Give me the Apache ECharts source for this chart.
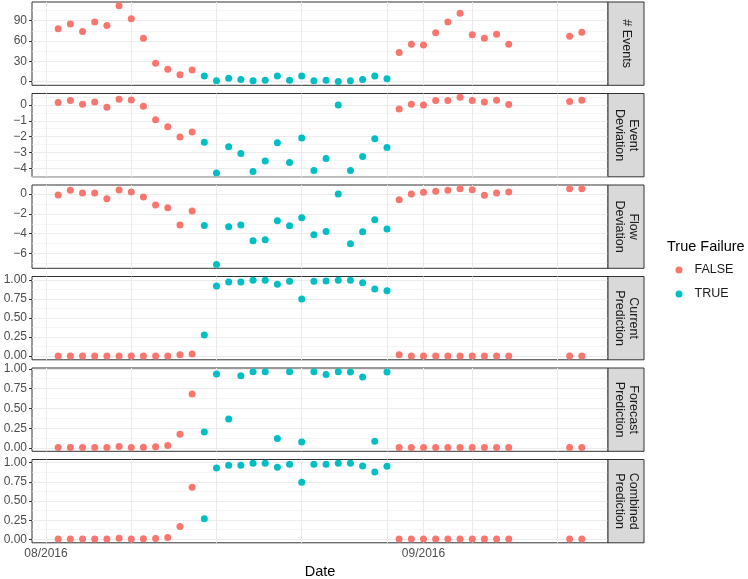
<!DOCTYPE html>
<html><head><meta charset="utf-8">
<script src="https://cdn.jsdelivr.net/npm/echarts@6/dist/echarts.min.js"></script>
<style>html,body{margin:0;padding:0;background:#fff}#c{width:748px;height:579px}</style>
</head><body><div id="c"></div>
<script>
// ---------------- data ----------------
const dates = [
  "2016-08-02","2016-08-03","2016-08-04","2016-08-05","2016-08-06","2016-08-07","2016-08-08","2016-08-09","2016-08-10","2016-08-11","2016-08-12","2016-08-13",
  "2016-08-14","2016-08-15","2016-08-16","2016-08-17","2016-08-18","2016-08-19","2016-08-20","2016-08-21","2016-08-22","2016-08-23","2016-08-24","2016-08-25","2016-08-26","2016-08-27","2016-08-28","2016-08-29",
  "2016-08-30","2016-08-31","2016-09-01","2016-09-02","2016-09-03","2016-09-04","2016-09-05","2016-09-06","2016-09-07","2016-09-08","2016-09-13","2016-09-14"];
const trueFailure = [
  false,false,false,false,false,false,false,false,false,false,false,false,
  true,true,true,true,true,true,true,true,true,true,true,true,true,true,true,true,
  false,false,false,false,false,false,false,false,false,false,false,false];
const nEvents = [78,85,74,88,83,112,93,64,27,18,10,17,
  8,1,5,3,1,2,8,2,8,1,2,0,1,3,8,4,
  43,55,54,72,88,101,69,64,70,55,67,73];
const eventDeviation = [0.15,0.27,0.04,0.19,-0.15,0.35,0.31,-0.08,-0.94,-1.38,-2.02,-1.71,
  -2.35,-4.29,-2.63,-3.06,-4.19,-3.54,-2.38,-3.63,-2.08,-4.13,-3.38,0,-4.13,-3.25,-2.13,-2.69,
  -0.25,0.04,0,0.27,0.27,0.48,0.27,0.19,0.29,0.02,0.21,0.29];
const flowDeviation = [-0.1,0.37,0.1,0.1,-0.47,0.4,0.2,-0.3,-1.1,-1.37,-3.13,-1.7,
  -3.17,-7.1,-3.3,-3.13,-4.7,-4.6,-2.7,-3.2,-2.4,-4.1,-3.77,0,-5.0,-3.8,-2.6,-3.53,
  -0.57,0,0.17,0.27,0.37,0.53,0.43,-0.13,0.1,0.2,0.53,0.53];
const currentPrediction = [0,0,0,0,0,0,0,0,0,0,0.017,0.026,
  0.277,0.922,0.974,0.974,0.996,0.996,0.944,0.983,0.75,0.983,0.987,0.996,0.996,0.965,0.883,0.857,
  0.017,0,0,0,0,0,0,0,0,0,0,0];
const forecastPrediction = [0.008,0.008,0.008,0.008,0.008,0.02,0.008,0.012,0.017,0.033,0.175,0.683,
  0.204,0.933,0.367,0.912,0.962,0.962,0.121,0.962,0.079,0.962,0.929,0.962,0.958,0.896,0.088,0.958,
  0.008,0.008,0.008,0.008,0.008,0.008,0.008,0.008,0.008,0.008,0.008,0.008];
const combinedPrediction = [0.009,0.009,0.009,0.009,0.009,0.02,0.009,0.012,0.017,0.03,0.172,0.681,
  0.272,0.931,0.966,0.966,0.991,0.991,0.94,0.978,0.746,0.978,0.978,0.991,0.991,0.957,0.879,0.953,
  0.009,0.009,0.009,0.009,0.009,0.009,0.009,0.009,0.009,0.009,0.009,0.009];

const panelValues = [nEvents, eventDeviation, flowDeviation, currentPrediction, forecastPrediction, combinedPrediction];
const panelLabels = ["# Events", "Event\nDeviation", "Flow\nDeviation", "Current\nPrediction", "Forecast\nPrediction", "Combined\nPrediction"];
const yTicks = [[0,30,60,90],[-4,-3,-2,-1,0],[-6,-4,-2,0],[0,0.25,0.5,0.75,1],[0,0.25,0.5,0.75,1],[0,0.25,0.5,0.75,1]];
const yDigits = [0,0,0,2,2,2];
const xTickDates = ["2016-08-01","2016-09-01"];
const xTickLabels = ["08/2016","09/2016"];
const xMinorDates = ["2016-08-08","2016-08-15","2016-08-22","2016-08-29","2016-09-05","2016-09-12"];
const classNames = ["FALSE","TRUE"];
const classColors = ["#F8766D","#00BFC4"];

// ---------------- layout ----------------
const FONT = "'Liberation Sans', Arial, Helvetica, sans-serif";
const PLOT_L = 32, PLOT_R = 608;
const TOP0 = 2, PITCH = 91.5, PH = 83.3;
const STRIP_W = 36;

const toMs = s => { const p = s.split('-').map(Number); return Date.UTC(p[0], p[1]-1, p[2]); };
const xs = dates.map(toMs);
const xLo = Math.min(...xs), xHi = Math.max(...xs), xSpan = xHi - xLo;
const xMin = xLo - 0.05*xSpan, xMax = xHi + 0.05*xSpan;
const xTickMs = xTickDates.map(toMs);
const xMinorMs = xMinorDates.map(toMs);

const grids = [], xAxes = [], yAxes = [], series = [], graphics = [];
panelValues.forEach((vals, i) => {
  const top = TOP0 + i*PITCH;
  grids.push({left: PLOT_L, width: PLOT_R - PLOT_L, top: top, height: PH, show: true,
    borderColor: '#333333', borderWidth: 1, backgroundColor: '#fff'});
  const last = i === panelValues.length - 1;
  xAxes.push({type: 'value', gridIndex: i, min: xMin, max: xMax, scale: true,
    axisLine: {show: false}, splitLine: {show: false},
    axisTick: {show: last, customValues: xTickMs, length: 3, lineStyle: {color: '#333333'}},
    axisLabel: {show: last, customValues: xTickMs, margin: 5, color: '#4D4D4D', fontSize: 12, fontFamily: FONT,
      formatter: v => { const k = xTickMs.indexOf(v); return k >= 0 ? xTickLabels[k] : ''; }}});
  const lo = Math.min(...vals), hi = Math.max(...vals), sp = hi - lo;
  const yMin = lo - 0.05*sp, yMax = hi + 0.05*sp;
  const ticks = yTicks[i];
  yAxes.push({type: 'value', gridIndex: i, min: yMin, max: yMax, scale: true,
    axisLine: {show: false}, splitLine: {show: false},
    axisTick: {show: true, customValues: ticks, length: 3, lineStyle: {color: '#333333'}},
    axisLabel: {customValues: ticks, margin: 5, color: '#4D4D4D', fontSize: 12, fontFamily: FONT,
      formatter: v => Number(v).toFixed(yDigits[i]).replace('-', '\u2212')}});
  // minor breaks between ticks (ggplot style)
  const step = ticks[1] - ticks[0];
  const minor = [];
  for (let k = -1; k < ticks.length; k++) {
    const m = ticks[0] + (k + 0.5)*step;
    if (m > yMin && m < yMax) minor.push(m);
  }
  const mlData = [];
  minor.forEach(v => mlData.push({yAxis: v, lineStyle: {width: 0.6, color: '#EFEFEF'}}));
  ticks.forEach(v => mlData.push({yAxis: v, lineStyle: {width: 1, color: '#EBEBEB'}}));
  xMinorMs.forEach(v => mlData.push({xAxis: v, lineStyle: {width: 1, color: '#EBEBEB'}}));
  xTickMs.forEach(v => mlData.push({xAxis: v, lineStyle: {width: 1, color: '#EBEBEB'}}));
  series.push({type: 'scatter', name: '_grid' + i, xAxisIndex: i, yAxisIndex: i, data: [], silent: true, z: 1,
    markLine: {silent: true, z: 1, symbol: ['none','none'], label: {show: false}, animation: false,
      emphasis: {disabled: true}, lineStyle: {type: 'solid'}, data: mlData}});
  classNames.forEach((cn, c) => {
    const pts = [];
    vals.forEach((v, j) => { if (trueFailure[j] === (c === 1)) pts.push([xs[j], v]); });
    series.push({type: 'scatter', name: cn, xAxisIndex: i, yAxisIndex: i, data: pts, z: 3,
      symbol: 'circle', symbolSize: 7, itemStyle: {color: classColors[c], opacity: 1}});
  });
  graphics.push({type: 'rect', silent: true, z: 10,
    shape: {x: PLOT_R, y: top, width: STRIP_W, height: PH},
    style: {fill: '#D9D9D9', stroke: '#333333', lineWidth: 1}});
  graphics.push({type: 'text', silent: true, z: 11, x: PLOT_R + STRIP_W/2 + 0.5, y: top + PH/2, rotation: -Math.PI/2,
    style: {text: panelLabels[i], fill: '#1A1A1A', fontSize: 12.5, fontFamily: FONT, align: 'center',
      verticalAlign: 'middle', lineHeight: 14}});
});
graphics.push({type: 'text', silent: true, x: (PLOT_L + PLOT_R)/2, y: 572,
  style: {text: 'Date', fill: '#000', fontSize: 14.5, fontFamily: FONT, align: 'center', verticalAlign: 'middle'}});
graphics.push({type: 'text', silent: true, x: 667, y: 247,
  style: {text: 'True Failure', fill: '#000', fontSize: 14.5, fontFamily: FONT, align: 'left', verticalAlign: 'middle'}});

const chart = echarts.init(document.getElementById('c'), null, {renderer: 'canvas'});
chart.setOption({
  animation: false,
  backgroundColor: '#fff',
  grid: grids, xAxis: xAxes, yAxis: yAxes, series: series, graphic: graphics,
  legend: {data: classNames, orient: 'vertical', left: 675.5, top: 263, padding: 0, itemGap: 10,
    icon: 'circle', itemWidth: 7, itemHeight: 7, selectedMode: false,
    textStyle: {color: '#1A1A1A', fontSize: 12.5, fontFamily: FONT, padding: [0,0,0,7], lineHeight: 14}}
});
</script></body></html>
